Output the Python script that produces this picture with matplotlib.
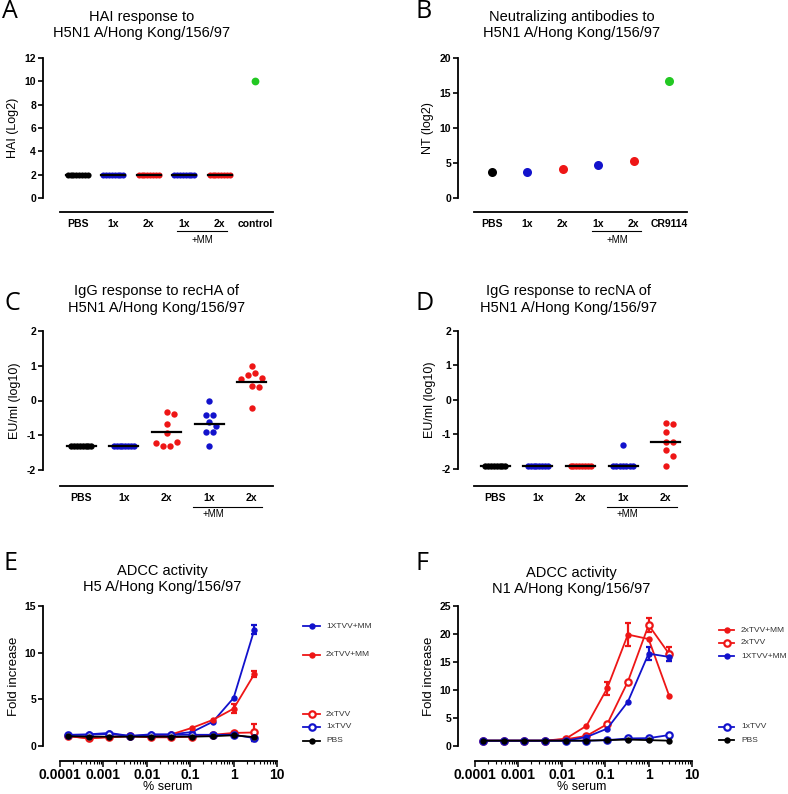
import numpy as np
import matplotlib
matplotlib.use("Agg")
import matplotlib.pyplot as plt
from matplotlib.lines import Line2D
from matplotlib.ticker import FixedLocator, LogLocator, NullFormatter

plt.rcParams['font.family'] = ['Liberation Sans', 'DejaVu Sans']
plt.rcParams['axes.unicode_minus'] = False

W, H = 788, 794
RED = '#EE1616'
BLUE = '#1212CC'
BLACK = '#000000'
GREEN = '#22C822'

# ---------------- data ----------------
cat_A = ['PBS', '1x', '2x', '1x', '2x', 'control']
hai_groups = [
    [2, 2, 2, 2, 2, 2, 2, 2],
    [2, 2, 2, 2, 2, 2, 2, 2],
    [2, 2, 2, 2, 2, 2, 2, 2],
    [2, 2, 2, 2, 2, 2, 2, 2],
    [2, 2, 2, 2, 2, 2, 2, 2],
    [10],
]
hai_means = [2, 2, 2, 2, 2, None]
hai_colors = [BLACK, BLUE, RED, BLUE, RED, GREEN]

cat_B = ['PBS', '1x', '2x', '1x', '2x', 'CR9114']
nt_values = [3.7, 3.7, 4.2, 4.7, 5.3, 16.7]
nt_colors = [BLACK, BLUE, RED, BLUE, RED, GREEN]

cat_C = ['PBS', '1x', '2x', '1x', '2x']
ha_groups = [
    [-1.31, -1.31, -1.31, -1.31, -1.31, -1.31, -1.31, -1.31],
    [-1.31, -1.31, -1.31, -1.31, -1.31, -1.31, -1.31, -1.31],
    [-0.34, -0.39, -0.69, -0.94, -1.18, -1.21, -1.30, -1.30],
    [-0.02, -0.42, -0.42, -0.61, -0.72, -0.92, -0.92, -1.30],
    [0.98, 0.80, 0.72, 0.66, 0.63, 0.41, 0.39, -0.23],
]
ha_means = [-1.31, -1.31, -0.92, -0.67, 0.54]
ha_colors = [BLACK, BLUE, RED, BLUE, RED]

na_groups = [
    [-1.92, -1.92, -1.92, -1.92, -1.92, -1.92, -1.92, -1.92],
    [-1.92, -1.92, -1.92, -1.92, -1.92, -1.92, -1.92, -1.92],
    [-1.92, -1.92, -1.92, -1.92, -1.92, -1.92, -1.92, -1.92],
    [-1.30, -1.92, -1.92, -1.92, -1.92, -1.92, -1.92, -1.92],
    [-0.66, -0.70, -0.92, -1.21, -1.23, -1.44, -1.61, -1.91],
]
na_means = [-1.92, -1.92, -1.92, -1.92, -1.23]
na_colors = [BLACK, BLUE, RED, BLUE, RED]

serum = [3, 1, 0.333, 0.111, 0.037, 0.0123, 0.0041, 0.00137, 0.000457, 0.000152]

E_names = ['1XTVV+MM', '2xTVV+MM', '2xTVV', '1xTVV', 'PBS']
E_vals = {
    '1XTVV+MM': [12.45, 5.15, 2.6, 1.5, 1.25, 1.25, 1.07, 1.4, 1.25, 1.18],
    '2xTVV+MM': [7.7, 4.0, 2.8, 1.95, 1.25, 1.0, 1.05, 1.0, 0.82, 1.07],
    '2xTVV':    [1.45, 1.4, 1.2, 1.0, 0.93, 0.93, 1.05, 0.93, 0.82, 1.05],
    '1xTVV':    [0.85, 1.2, 1.2, 1.2, 1.2, 1.2, 1.07, 1.3, 1.2, 1.2],
    'PBS':      [0.95, 1.15, 1.05, 1.0, 1.0, 1.0, 1.0, 1.0, 1.0, 1.05],
}
E_err = {
    '1XTVV+MM': [0.5, 0, 0, 0, 0, 0, 0, 0, 0, 0],
    '2xTVV+MM': [0.36, 0.45, 0, 0, 0, 0, 0, 0, 0, 0],
    '2xTVV':    [0.95, 0, 0, 0, 0, 0, 0, 0, 0, 0],
    '1xTVV':    [0.3, 0, 0, 0, 0, 0, 0, 0, 0, 0],
    'PBS':      [0, 0, 0, 0, 0, 0, 0, 0, 0, 0],
}

F_names = ['2xTVV+MM', '2xTVV', '1XTVV+MM', '1xTVV', 'PBS']
F_vals = {
    '2xTVV+MM': [8.9, 19.1, 19.9, 10.3, 3.6, 1.3, 0.95, 0.95, 0.95, 0.95],
    '2xTVV':    [16.4, 21.6, 11.5, 3.9, 1.8, 1.2, 0.95, 0.95, 0.95, 0.95],
    '1XTVV+MM': [15.9, 16.5, 7.9, 3.1, 1.6, 0.95, 0.95, 0.95, 0.95, 0.95],
    '1xTVV':    [1.96, 1.4, 1.35, 1.05, 0.95, 0.95, 0.95, 0.95, 0.95, 0.95],
    'PBS':      [0.95, 1.05, 1.15, 1.05, 0.95, 0.95, 0.95, 0.95, 0.95, 0.95],
}
F_err = {
    '2xTVV+MM': [0, 0, 2.1, 1.2, 0, 0, 0, 0, 0, 0],
    '2xTVV':    [1.2, 1.2, 0, 0, 0, 0, 0, 0, 0, 0],
    '1XTVV+MM': [0.8, 1.1, 0, 0, 0, 0, 0, 0, 0, 0],
    '1xTVV':    [0, 0, 0, 0, 0, 0, 0, 0, 0, 0],
    'PBS':      [0, 0, 0, 0, 0, 0, 0, 0, 0, 0],
}
series_style = {
    '1XTVV+MM': (BLUE, True),
    '2xTVV+MM': (RED, True),
    '2xTVV': (RED, False),
    '1xTVV': (BLUE, False),
    'PBS': (BLACK, True),
}

# ---------------- helpers ----------------
fig = plt.figure(figsize=(W / 100, H / 100), dpi=100)
PT = 72.0 / 100.0  # points per pixel


def add_ax(l, r, t, b):
    return fig.add_axes([l / W, 1 - b / H, (r - l) / W, (b - t) / H])


def fx(x):
    return x / W


def fy(y):
    return 1 - y / H


def style_axes(ax, left_out, bottom_out):
    for s in ['top', 'right']:
        ax.spines[s].set_visible(False)
    ax.spines['left'].set_position(('outward', left_out * PT))
    ax.spines['bottom'].set_position(('outward', bottom_out * PT))
    ax.spines['left'].set_linewidth(1.3)
    ax.spines['bottom'].set_linewidth(1.3)
    ax.patch.set_alpha(0)
    ax.tick_params(axis='y', direction='out', length=3.5, width=1.2, pad=1.5,
                   labelsize=7.5)
    for lab in ax.get_yticklabels():
        lab.set_fontweight('bold')


def swarm_offsets(vals, px_per_y, d=7.0, step=3.5, tie_span=20.0):
    vals = np.asarray(vals, dtype=float)
    n = len(vals)
    off = np.zeros(n)
    placed = []
    done = np.zeros(n, bool)
    uniq, counts = np.unique(vals, return_counts=True)
    for u, c in zip(uniq, counts):
        if c >= 2:
            idx = np.where(vals == u)[0]
            sp = min(d, tie_span / (c - 1))
            for k, i in enumerate(idx):
                off[i] = (k - (c - 1) / 2) * sp
                placed.append((off[i], vals[i] * px_per_y))
                done[i] = True
    order = np.argsort(-vals)
    for i in order:
        if done[i]:
            continue
        yp = vals[i] * px_per_y
        cands = [0.0]
        for k in range(1, 20):
            cands += [k * step, -k * step]
        for c in cands:
            if all(np.hypot(c - px, yp - py) >= d for px, py in placed):
                off[i] = c
                break
        placed.append((off[i], yp))
    return off


def cat_panel(ax, groups, colors, means, ylim, yticks, ax_px_w, ax_px_h,
              ms=4.6, mean_w=0.34):
    n = len(groups)
    ax.set_xlim(-0.5, n - 0.5)
    ax.set_ylim(*ylim)
    px_per_x = ax_px_w / n
    px_per_y = ax_px_h / (ylim[1] - ylim[0])
    for i, (g, c) in enumerate(zip(groups, colors)):
        offs = swarm_offsets(g, px_per_y)
        ax.plot(i + offs / px_per_x, g, 'o', color=c,
                ms=ms if len(g) > 1 else ms + 1.2, mew=0,
                clip_on=False, zorder=3)
        if means is not None and means[i] is not None:
            ax.plot([i - mean_w, i + mean_w], [means[i], means[i]], '-',
                    color='black', lw=1.6, zorder=4, clip_on=False)
    ax.set_yticks(yticks)


def cat_labels(ax, labels, line_px, mm_px, lo, hi, mm_text_x):
    ax.set_xticks(range(len(labels)))
    ax.set_xticklabels(labels, fontsize=7.5, fontweight='bold')
    ax.tick_params(axis='x', length=0, pad=5)
    fig.add_artist(Line2D([fx(lo), fx(hi)], [fy(line_px), fy(line_px)],
                          color='black', lw=0.8))
    fig.text(fx(mm_text_x), fy(mm_px), '+MM', fontsize=7, ha='center',
             va='center')


def title(x, y1, lines, size=10.5):
    fig.text(fx(x), fy(y1), lines, ha='center', va='center', fontsize=size,
             linespacing=1.2)


def letter(x, y, s):
    fig.text(fx(x), fy(y), s, ha='left', va='center', fontsize=18,
             family=['Open Sans', 'DejaVu Sans'])


# ---------------- Panel A ----------------
axA = add_ax(60, 273, 58, 198)
cat_panel(axA, hai_groups, hai_colors, hai_means, (0, 12), range(0, 13, 2),
          213, 140, ms=4.4)
style_axes(axA, 17, 14)
cat_labels(axA, cat_A, 231, 240, 177, 227, 202)
axA.set_ylabel('HAI (Log2)', fontsize=9, labelpad=4)
title(142, 25, 'HAI response to\nH5N1 A/Hong Kong/156/97')
letter(2, 11, 'A')

# ---------------- Panel B ----------------
axB = add_ax(474, 687, 58, 198)
axB.set_xlim(-0.5, 5.5)
axB.set_ylim(0, 20)
for i, (v, c) in enumerate(zip(nt_values, nt_colors)):
    axB.plot(i, v, 'o', color=c, ms=6.5, mew=0, clip_on=False, zorder=3)
axB.set_yticks(range(0, 21, 5))
style_axes(axB, 16, 14)
cat_labels(axB, cat_B, 231, 240, 592, 641, 617)
axB.set_ylabel('NT (log2)', fontsize=9, labelpad=4)
title(572, 25, 'Neutralizing antibodies to\nH5N1 A/Hong Kong/156/97')
letter(415, 11, 'B')

# ---------------- Panel C ----------------
axC = add_ax(60, 273, 331, 470)
cat_panel(axC, ha_groups, ha_colors, ha_means, (-2, 2), range(-2, 3), 213, 139)
style_axes(axC, 17, 16)
cat_labels(axC, cat_C, 507, 514, 193, 262, 213)
axC.set_ylabel('EU/ml (log10)', fontsize=9, labelpad=4)
title(157, 299.5, 'IgG response to recHA of\nH5N1 A/Hong Kong/156/97')
letter(4, 303, 'C')

# ---------------- Panel D ----------------
axD = add_ax(474, 687, 331, 469)
cat_panel(axD, na_groups, na_colors, na_means, (-2, 2), range(-2, 3), 213, 138)
style_axes(axD, 16, 17)
cat_labels(axD, cat_C, 507, 514, 607, 677, 627)
axD.set_ylabel('EU/ml (log10)', fontsize=9, labelpad=4)
title(569, 299.5, 'IgG response to recNA of\nH5N1 A/Hong Kong/156/97')
letter(415, 303, 'D')


# ---------------- Panels E, F ----------------
def adcc_panel(ax, names, vals, errs, ymax, yticks, xlab_x):
    ax.set_xscale('log')
    ax.set_xlim(1e-4, 10)
    ax.set_ylim(0, ymax)
    x = np.array(serum)
    for nm in names:
        c, filled = series_style[nm]
        y = np.array(vals[nm])
        e = np.array(errs[nm])
        ax.plot(x, y, '-o', color=c, lw=1.3, ms=4.6,
                mfc=c if filled else 'white', mec=c, mew=1.6 if not filled else 0,
                clip_on=False, zorder=3)
        m = e > 0
        if m.any():
            ax.errorbar(x[m], y[m], yerr=e[m], fmt='none', ecolor=c,
                        elinewidth=1.6, capsize=2.5, capthick=1.6, zorder=2,
                        clip_on=False)
    ax.set_yticks(yticks)
    ax.xaxis.set_major_locator(FixedLocator([1e-4, 1e-3, 1e-2, 1e-1, 1, 10]))
    ax.set_xticklabels(['0.0001', '0.001', '0.01', '0.1', '1', '10'],
                       fontsize=6.8, fontweight='bold')
    ax.xaxis.set_minor_locator(LogLocator(base=10, subs=np.arange(2, 10),
                                          numticks=20))
    ax.xaxis.set_minor_formatter(NullFormatter())
    ax.tick_params(axis='x', which='major', direction='out', length=4,
                   width=1.1, pad=1)
    ax.tick_params(axis='x', which='minor', direction='out', length=2.5,
                   width=0.8)
    fig.text(fx(xlab_x), fy(787), '% serum', fontsize=9, ha='center',
             va='center')
    ax.set_ylabel('Fold increase', fontsize=9.5, labelpad=3)


def legend_rows(x0, x1, xt, rows):
    for nm, yp in rows:
        c, filled = series_style[nm]
        fig.add_artist(Line2D([fx(x0), fx(x1)], [fy(yp), fy(yp)], color=c,
                              lw=1.3))
        fig.add_artist(Line2D([fx((x0 + x1) / 2)], [fy(yp)], marker='o',
                              color=c, ms=4.6,
                              mfc=c if filled else 'white', mec=c,
                              mew=1.6 if not filled else 0))
        fig.text(fx(xt), fy(yp), nm, fontsize=6, va='center', ha='left',
                 color='#333333')


axE = add_ax(60, 277, 606, 746)
adcc_panel(axE, E_names, E_vals, E_err, 15, range(0, 16, 5), 168)
style_axes(axE, 17, 15)
for lab in axE.get_xticklabels():
    lab.set_fontweight('bold')
title(162, 579, 'ADCC activity\nH5 A/Hong Kong/156/97')
letter(4, 563, 'E')
legend_rows(303, 320, 326, [('1XTVV+MM', 626), ('2xTVV+MM', 655),
                            ('2xTVV', 714), ('1xTVV', 727), ('PBS', 741)])

axF = add_ax(475, 692, 606, 746)
adcc_panel(axF, F_names, F_vals, F_err, 25, range(0, 26, 5), 582)
style_axes(axF, 17, 15)
for lab in axF.get_xticklabels():
    lab.set_fontweight('bold')
title(571, 581, 'ADCC activity\nN1 A/Hong Kong/156/97')
letter(415, 563, 'F')
legend_rows(719, 734, 741, [('2xTVV+MM', 630), ('2xTVV', 643),
                            ('1XTVV+MM', 656), ('1xTVV', 727), ('PBS', 740)])

fig.savefig('out.png', dpi=100)
